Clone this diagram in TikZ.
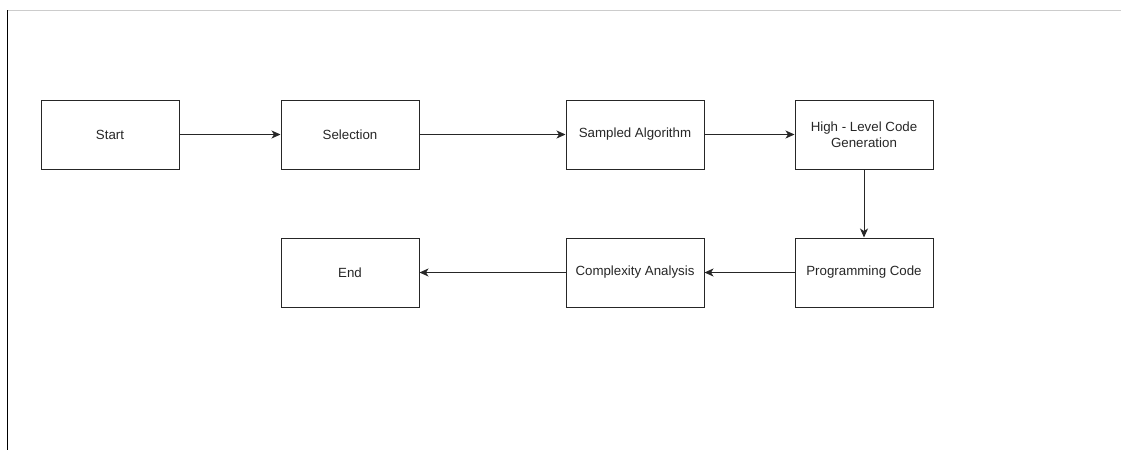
\documentclass[tikz,border=0pt]{standalone}
\usepackage{fontspec}
\setmainfont{Liberation Sans}
\usetikzlibrary{arrows.meta}
\begin{document}
\begin{tikzpicture}[x=1pt,y=-1pt,
  box/.style={draw=black!85, line width=1pt, minimum width=138pt, minimum height=69pt, inner sep=2pt, align=center, font=\fontsize{13.3}{16}\selectfont, text=black!85},
  conn/.style={draw=black!85, line width=1pt, -{Stealth[length=9pt,width=8pt,inset=2.5pt]}}]
\useasboundingbox (0,0) rectangle (1121,450);
\draw[black!20, line width=1pt] (8,10.5) -- (1121,10.5);
\draw[black, line width=1.8pt] (7.5,10) -- (7.5,450);
\node[box] (start) at (110,134.5) {Start};
\node[box] (sel) at (350,134.5) {Selection};
\node[box] (samp) at (635,134.5) {Sampled Algorithm};
\node[box] (high) at (864,134.5) {High - Level Code\\Generation};
\node[box] (prog) at (864,272.5) {Programming Code};
\node[box] (comp) at (635,272.5) {Complexity Analysis};
\node[box] (end) at (350,272.5) {End};
\draw[conn] (start) -- (sel);
\draw[conn] (sel) -- (samp);
\draw[conn] (samp) -- (high);
\draw[conn] (high) -- (prog);
\draw[conn] (prog) -- (comp);
\draw[conn] (comp) -- (end);
\end{tikzpicture}
\end{document}
